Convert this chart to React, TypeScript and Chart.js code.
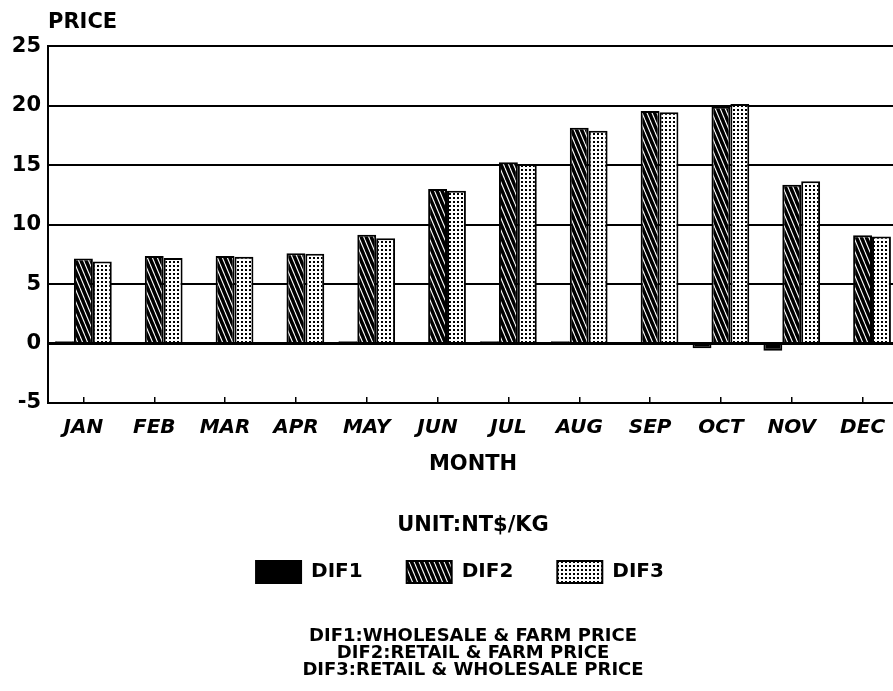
import { useEffect, useRef } from 'react';
import { Chart, registerables } from 'chart.js';

Chart.register(...registerables);

const months = ['JAN', 'FEB', 'MAR', 'APR', 'MAY', 'JUN', 'JUL', 'AUG', 'SEP', 'OCT', 'NOV', 'DEC'];
const dif1 = [0.2, 0.1, 0.05, 0.05, 0.2, 0.05, 0.2, 0.2, 0.05, -0.4, -0.6, 0.05];
const dif2 = [7.15, 7.35, 7.35, 7.6, 9.15, 13.0, 15.25, 18.15, 19.55, 19.9, 13.35, 9.1];
const dif3 = [6.9, 7.2, 7.3, 7.55, 8.85, 12.85, 15.1, 17.9, 19.45, 20.15, 13.65, 9.0];
const yTicks = [-5, 0, 5, 10, 15, 20, 25];
const seriesNames = ['DIF1', 'DIF2', 'DIF3'];
const yTitle = 'PRICE';
const xTitle = 'MONTH';
const unitText = 'UNIT:NT$/KG';
const notes = [
  'DIF1:WHOLESALE & FARM PRICE',
  'DIF2:RETAIL & FARM PRICE',
  'DIF3:RETAIL & WHOLESALE PRICE',
];

const FAMILY = '"DejaVu Sans", "Liberation Sans", sans-serif';

function makeHatch(ctx: CanvasRenderingContext2D) {
  const c = document.createElement('canvas');
  c.width = 5;
  c.height = 12;
  const g = c.getContext('2d')!;
  g.fillStyle = '#000';
  g.fillRect(0, 0, 5, 12);
  g.strokeStyle = '#fff';
  g.lineWidth = 1.1;
  for (const dx of [-5, 0, 5]) {
    g.beginPath();
    g.moveTo(dx, 0);
    g.lineTo(dx + 5, 12);
    g.stroke();
  }
  return ctx.createPattern(c, 'repeat')!;
}

function makeDots(ctx: CanvasRenderingContext2D) {
  const c = document.createElement('canvas');
  c.width = 4;
  c.height = 4;
  const g = c.getContext('2d')!;
  g.fillStyle = '#fff';
  g.fillRect(0, 0, 4, 4);
  g.fillStyle = '#000';
  g.fillRect(1, 1, 2, 2);
  return ctx.createPattern(c, 'repeat')!;
}

export default function App() {
  const ref = useRef<HTMLCanvasElement | null>(null);

  useEffect(() => {
    const canvas = ref.current!;
    const ctx = canvas.getContext('2d')!;
    const hatch = makeHatch(ctx);
    const dots = makeDots(ctx);
    const fills: any[] = ['#000', hatch, dots];
    const values = [dif1, dif2, dif3];

    const chart = new Chart(canvas, {
      type: 'bar',
      data: {
        labels: months,
        datasets: seriesNames.map((name, i) => ({
          label: name,
          data: values[i],
          backgroundColor: fills[i],
          borderColor: '#000',
          borderWidth: 2,
          categoryPercentage: 0.8,
          barPercentage: 1.0,
          yAxisID: 'y',
        })),
      },
      options: {
        responsive: false,
        animation: false,
        devicePixelRatio: 1,
        layout: { padding: { left: 0, right: 0, top: 0, bottom: 0 } },
        plugins: {
          tooltip: { enabled: false },
          subtitle: {
            display: true,
            text: yTitle,
            position: 'top',
            align: 'start',
            fullSize: false,
            color: '#000',
            font: { family: FAMILY, size: 21, weight: 'bold', lineHeight: 1.2 },
            padding: { top: 10, bottom: 11 },
          },
          legend: {
            display: true,
            position: 'bottom',
            fullSize: true,
            labels: {
              boxWidth: 45,
              boxHeight: 22,
              padding: 44,
              color: '#000',
              font: { family: FAMILY, size: 20, weight: 'bold' },
            },
          },
          title: {
            display: true,
            text: notes,
            position: 'bottom',
            fullSize: false,
            color: '#000',
            font: { family: FAMILY, size: 18, weight: 'bold', lineHeight: '17px' },
            padding: { top: 34.5, bottom: 12.5 },
          },
        },
        scales: {
          x: {
            grid: {
              display: true,
              drawOnChartArea: false,
              offset: false,
              drawTicks: true,
              tickLength: -6,
              color: '#000',
              lineWidth: 1.5,
            },
            border: { display: true, color: '#000', width: 2 },
            ticks: {
              color: '#000',
              padding: 19,
              maxRotation: 0,
              autoSkip: false,
              font: { family: FAMILY, size: 20, weight: 'bold', style: 'italic' },
            },
            title: {
              display: true,
              text: [xTitle, '', unitText],
              color: '#000',
              font: { family: FAMILY, size: 21, weight: 'bold', lineHeight: '30.5px' },
              padding: { top: -10, bottom: -23.5 },
            },
          },
          y: {
            position: 'left',
            min: -5,
            max: 25,
            afterBuildTicks: (axis: any) => {
              axis.ticks = yTicks.map((v) => ({ value: v }));
            },
            afterFit: (axis: any) => {
              axis.width = 48;
            },
            ticks: {
              color: '#000',
              padding: 7,
              font: { family: FAMILY, size: 21, weight: 'bold' },
            },
            grid: {
              color: '#000',
              drawTicks: false,
              lineWidth: (c: any) => (c.tick && c.tick.value === 0 ? 3 : 2),
            },
            border: { display: true, color: '#000', width: 2 },
          },
          yRight: {
            position: 'right',
            display: true,
            min: -5,
            max: 25,
            grid: { display: false, drawOnChartArea: false, drawTicks: false },
            border: { display: false },
            ticks: { display: false },
            afterFit: (axis: any) => {
              axis.width = 22;
            },
          },
        },
      },
    });
    return () => chart.destroy();
  }, []);

  return (
    <div
      style={{
        position: 'absolute',
        left: 0,
        top: 0,
        width: 893,
        height: 691,
        overflow: 'hidden',
        background: '#fff',
      }}
    >
      <canvas ref={ref} width={920} height={691} style={{ display: 'block' }} />
    </div>
  );
}
